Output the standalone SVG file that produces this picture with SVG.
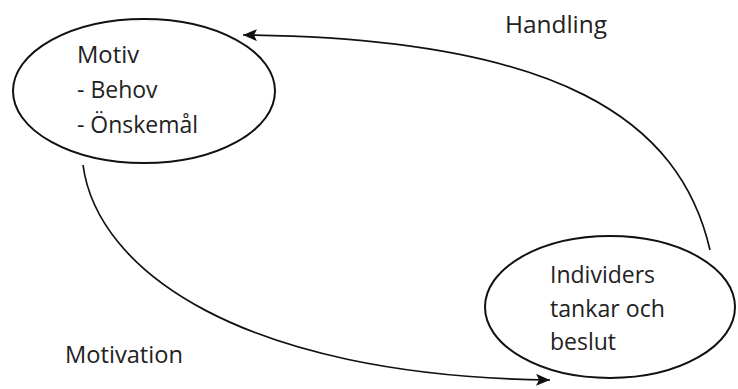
<svg xmlns="http://www.w3.org/2000/svg" width="738" height="389" viewBox="0 0 738 389">
<style>
.node{fill:#fff;stroke:#111;stroke-width:2}
.lbl{font-family:"Open Sans","Noto Sans",sans-serif;font-size:23px;fill:#222}
.conn{fill:none;stroke:#111;stroke-width:1.7}
</style>
<defs>
<marker id="ah" viewBox="0 0 14 12" refX="14" refY="6" markerWidth="14" markerHeight="12" markerUnits="userSpaceOnUse" orient="auto">
<path d="M0,0 L14,6 L0,12 L3,6 Z" fill="#111"/>
</marker>
</defs>
<g id="connectors">
<path class="conn" d="M710,250 C680,120 560,38 243,35" marker-end="url(#ah)"/>
<path class="conn" d="M83,165 C97,270 240,376 550,380" marker-end="url(#ah)"/>
<text class="lbl" x="505" y="33" textLength="102" lengthAdjust="spacingAndGlyphs">Handling</text>
<text class="lbl" x="65" y="363" textLength="118" lengthAdjust="spacingAndGlyphs">Motivation</text>
</g>
<g id="motiv">
<ellipse class="node" cx="144" cy="91" rx="131" ry="72"/>
<text class="lbl" x="77" y="63" textLength="62" lengthAdjust="spacingAndGlyphs">Motiv</text>
<text class="lbl" x="77" y="98">- Behov</text>
<text class="lbl" x="77" y="133" textLength="121" lengthAdjust="spacingAndGlyphs">- Önskemål</text>
</g>
<g id="individ">
<ellipse class="node" cx="610" cy="307" rx="125" ry="71"/>
<text class="lbl" x="550" y="283">Individers</text>
<text class="lbl" x="550" y="317" textLength="115" lengthAdjust="spacingAndGlyphs">tankar och</text>
<text class="lbl" x="550" y="350">beslut</text>
</g>
</svg>
